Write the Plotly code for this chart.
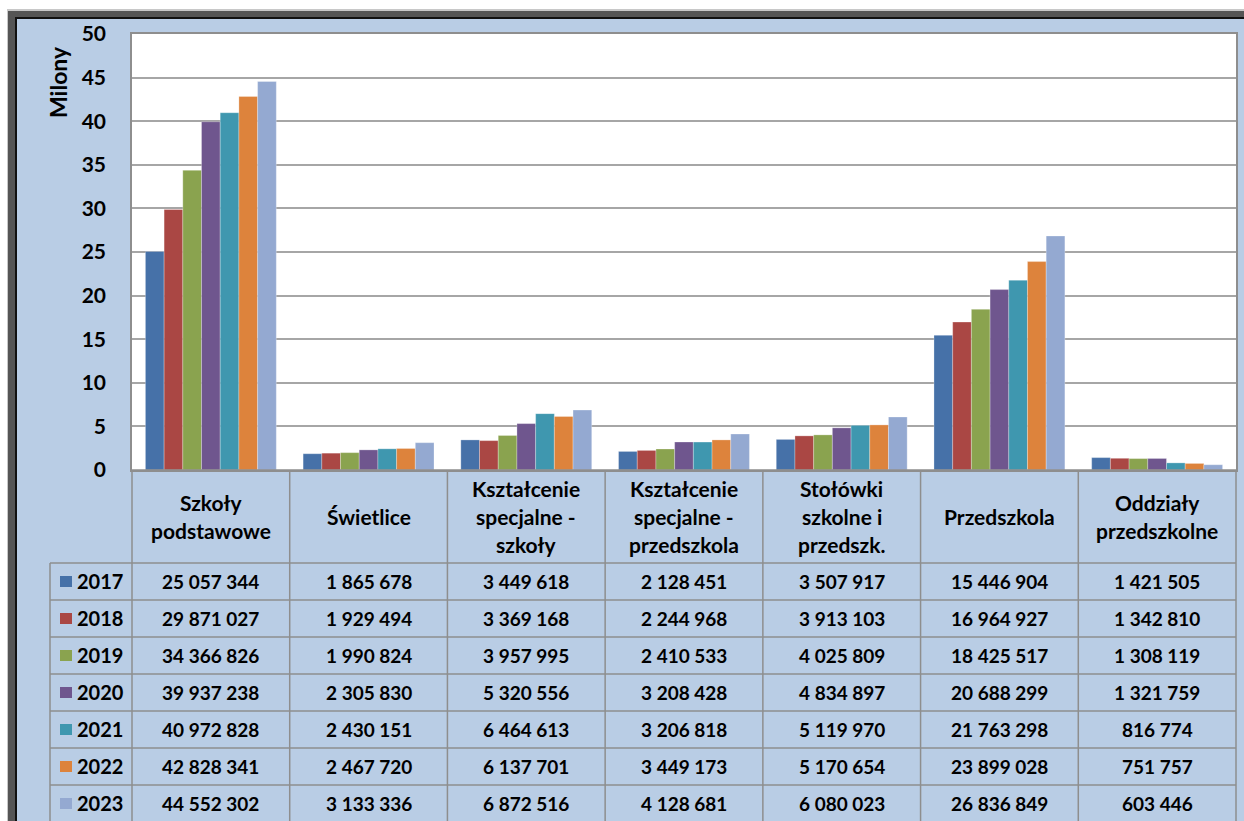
import plotly.graph_objects as go

# ---------------- data ----------------
categories = [
    "Szkoły<br>podstawowe",
    "Świetlice",
    "Kształcenie<br>specjalne -<br>szkoły",
    "Kształcenie<br>specjalne -<br>przedszkola",
    "Stołówki<br>szkolne i<br>przedszk.",
    "Przedszkola",
    "Oddziały<br>przedszkolne",
]
years = ["2017", "2018", "2019", "2020", "2021", "2022", "2023"]
v2017 = [25057344, 1865678, 3449618, 2128451, 3507917, 15446904, 1421505]
v2018 = [29871027, 1929494, 3369168, 2244968, 3913103, 16964927, 1342810]
v2019 = [34366826, 1990824, 3957995, 2410533, 4025809, 18425517, 1308119]
v2020 = [39937238, 2305830, 5320556, 3208428, 4834897, 20688299, 1321759]
v2021 = [40972828, 2430151, 6464613, 3206818, 5119970, 21763298, 816774]
v2022 = [42828341, 2467720, 6137701, 3449173, 5170654, 23899028, 751757]
v2023 = [44552302, 3133336, 6872516, 4128681, 6080023, 26836849, 603446]
series = [v2017, v2018, v2019, v2020, v2021, v2022, v2023]
y_ticks = [0, 5, 10, 15, 20, 25, 30, 35, 40, 45, 50]
y_title = "Milony"

colors = ["#4671A8", "#AA4744", "#8AA34F", "#6F568E", "#3F97AF", "#DD833C", "#94A9D1"]

# ---------------- geometry helpers ----------------
W, H = 1244, 821
def xp(x):
    return x / W
def yp(y):
    return 1 - y / H

PL, PR, PT, PB = 132, 1236, 34, 470      # plot area in px
TAB_LEFT = 50
HEAD_BOT = 563
ROW_H = 37
ncat = len(categories)
colw = (PR - PL) / ncat

FONT = "Lato"
BG = "#B9CDE5"
LINE = "#8E8E8E"

x_names = [c.replace("<br>", " ") for c in categories]

fig = go.Figure()
for yr, vals, col in zip(years, series, colors):
    fig.add_trace(go.Bar(
        x=x_names, y=[v / 1e6 for v in vals], name=yr,
        marker=dict(color=col, line=dict(color="rgba(255,255,255,0.35)", width=0.8)),
        showlegend=False,
    ))

shapes = []
annotations = []

def prect(x0, x1, y0, y1, color):
    shapes.append(dict(type="rect", xref="paper", yref="paper", x0=xp(x0), x1=xp(x1),
                       y0=yp(y1), y1=yp(y0), fillcolor=color, line=dict(width=0),
                       layer="above"))

# outer white strip + frame (top/left)
prect(0, W, 0, 9, "white")
prect(0, 7, 0, H, "white")
prect(7, W, 9, 19, "#C8C8C8")
prect(7, 17, 9, H, "#C8C8C8")
prect(8, W, 11, 19, "#555555")
prect(8, 17, 11, H, "#555555")
prect(15, W, 17, 19, "#111111")
prect(15, 17, 17, H, "#111111")

def hline(x0, x1, y):
    shapes.append(dict(type="line", xref="paper", yref="paper", x0=xp(x0), x1=xp(x1),
                       y0=yp(y), y1=yp(y), line=dict(color=LINE, width=1.5)))
def vline(x, y0, y1):
    shapes.append(dict(type="line", xref="paper", yref="paper", x0=xp(x), x1=xp(x),
                       y0=yp(y0), y1=yp(y1), line=dict(color=LINE, width=1.5)))

# table grid
hline(PL, PR, PB)
for k in range(len(years) + 1):
    hline(TAB_LEFT, PR, HEAD_BOT + k * ROW_H)
for i in range(ncat + 1):
    vline(PL + i * colw, PB, H)
vline(TAB_LEFT, HEAD_BOT, H)

nfont = dict(family=FONT, size=19, color="black", weight="bold")
hfont = dict(family=FONT, size=21, color="black", weight="bold")
yfont = dict(family=FONT, size=20, color="black", weight="bold")

# category headers
head_mid = (PB + HEAD_BOT) / 2
LH = 28
for i, cat in enumerate(categories):
    lines = cat.split("<br>")
    cx = PL + (i + 0.5) * colw
    n = len(lines)
    for j, ln in enumerate(lines):
        cy = head_mid + (j - (n - 1) / 2) * LH
        annotations.append(dict(text=ln, xref="paper", yref="paper", x=xp(cx), y=yp(cy),
                                xanchor="center", yanchor="middle", showarrow=False, font=hfont))

# rows
for k, (yr, vals, col) in enumerate(zip(years, series, colors)):
    cy = HEAD_BOT + (k + 0.5) * ROW_H
    shapes.append(dict(type="rect", xref="paper", yref="paper", x0=xp(60), x1=xp(72),
                       y0=yp(cy + 5.5), y1=yp(cy - 5.5), fillcolor=col, line=dict(width=0)))
    annotations.append(dict(text=yr, xref="paper", yref="paper", x=xp(75), y=yp(cy - 1),
                            xanchor="left", yanchor="middle", showarrow=False, font=yfont))
    for i, v in enumerate(vals):
        cx = PL + (i + 0.5) * colw
        annotations.append(dict(text=f"{v:,}".replace(",", " "), xref="paper", yref="paper",
                                x=xp(cx), y=yp(cy), xanchor="center", yanchor="middle",
                                showarrow=False, font=nfont))

# y-axis title
annotations.append(dict(text=y_title, xref="paper", yref="paper", x=xp(58), y=yp(82),
                        textangle=-90, xanchor="center", yanchor="middle", showarrow=False,
                        font=dict(family=FONT, size=23, color="black", weight="bold")))

fig.update_layout(
    width=W, height=H,
    margin=dict(l=0, r=0, t=0, b=0, pad=0, autoexpand=False),
    paper_bgcolor=BG, plot_bgcolor="white",
    barmode="group", bargap=0.17, bargroupgap=0,
    font=dict(family=FONT, color="black"),
    shapes=shapes, annotations=annotations,
    xaxis=dict(domain=[xp(PL), xp(PR)], showticklabels=False, showgrid=False,
               showline=True, linecolor=LINE, linewidth=1.5, mirror=True, ticks="",
               automargin=False, fixedrange=True),
    yaxis=dict(domain=[yp(PB), yp(PT)], range=[0, 50], tickvals=y_ticks,
               ticktext=[str(t) for t in y_ticks], showgrid=True, gridcolor="#A6A6A6",
               gridwidth=1.5, zeroline=False, showline=True, linecolor=LINE, linewidth=1.5,
               mirror=True, ticks="", ticklabelstandoff=20, automargin=False,
               tickfont=dict(family=FONT, size=21, color="black", weight="bold"),
               fixedrange=True),
)

fig.write_html("out.html", config={"displayModeBar": False},
               post_script="document.body.style.margin='0px';document.body.style.overflow='hidden';")
